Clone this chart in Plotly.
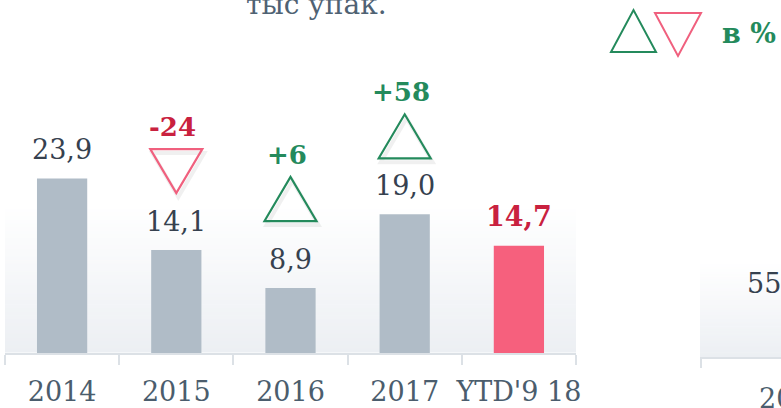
import plotly.graph_objects as go

# main chart data
categories = ['2014', '2015', '2016', '2017', "YTD'9 18"]
volumes = [23.9, 14.1, 8.9, 19.0, 14.7]
changes_pct = [None, -24, 6, 58, None]
unit_title = 'тыс упак.'
legend_text = 'в %'

# pieces of the next chart that are cut off at the right edge
next_value_text = '55'
next_category_text = '20'

W, H = 781, 408
FONT = 'DejaVu Serif'
GRAY = '#b0bcc7'
PINK = '#f6607d'
DARK = '#36414f'
SLATE = '#4b5d6d'
RED_TXT = '#c9213f'
GREEN = '#248a5c'
RED_TRI = '#f0607e'
AXIS = '#dce1e6'

PX_PER_UNIT = 7.3
PLOT_BOTTOM = 353


def fx(p):
    return p / W


def fy(p):
    return 1 - p / H


def fade(p_top, p_bottom, x0, x1, steps=40):
    # light vertical gradient behind the bars, drawn as thin strips
    shapes = []
    top, bot = (255, 255, 255), (236, 239, 243)
    h = (p_bottom - p_top) / steps
    for k in range(steps):
        t = (k + 0.5) / steps
        c = tuple(round(top[j] + (bot[j] - top[j]) * t) for j in range(3))
        shapes.append(dict(type='rect', xref='paper', yref='paper', layer='below',
                           x0=fx(x0), x1=fx(x1),
                           y0=fy(p_top + k * h), y1=fy(p_top + (k + 1) * h + 0.6),
                           line_width=0, fillcolor='rgb(%d,%d,%d)' % c))
    return shapes


def tri_path(cx, base, tip):
    # pixel coordinates -> paper path
    return 'M %f,%f L %f,%f L %f,%f Z' % (fx(cx - 26), fy(base), fx(cx + 26), fy(base), fx(cx), fy(tip))


fig = go.Figure()
fig.add_trace(go.Bar(
    x=categories, y=volumes, width=0.44,
    marker=dict(color=[GRAY] * 4 + [PINK], line_width=0),
    hoverinfo='x+y'))

shapes = fade(205, PLOT_BOTTOM - 1, 5, 576) + fade(262, 357, 700, W)

# axis of the cut-off chart on the right
shapes.append(dict(type='line', xref='paper', yref='paper', x0=fx(700), x1=1,
                   y0=fy(358), y1=fy(358), line=dict(color=AXIS, width=2)))
shapes.append(dict(type='line', xref='paper', yref='paper', x0=fx(701), x1=fx(701),
                   y0=fy(358), y1=fy(368), line=dict(color=AXIS, width=2)))

annotations = []
y_max = PLOT_BOTTOM / PX_PER_UNIT

# value labels
for i, v in enumerate(volumes):
    last = i == len(categories) - 1
    annotations.append(dict(
        x=i, y=v, xref='x', yref='y', yanchor='middle', yshift=29,
        text=('<b>%s</b>' if last else '%s') % ('%.1f' % v).replace('.', ','),
        showarrow=False,
        font=dict(family=FONT, size=27, color=RED_TXT if last else DARK)))

# change triangles with percentage above them
tri_gap = [None, 57, 67, 56, None]
tri_h = 44
for i, (v, ch) in enumerate(zip(volumes, changes_pct)):
    if ch is None:
        continue
    top_px = PLOT_BOTTOM - v * PX_PER_UNIT
    cx = 5 + (i + 0.5) * (571 / 5)
    low = top_px - tri_gap[i]
    high = low - tri_h
    if ch < 0:
        path = tri_path(cx, high, low)
        col = RED_TRI
    else:
        path = tri_path(cx, low, high)
        col = GREEN
    shapes.append(dict(type='path', xref='paper', yref='paper',
                       path=tri_path(cx + 2, (high if ch < 0 else low) + 4, (low if ch < 0 else high) + 4),
                       line=dict(color='rgba(0,0,0,0.06)', width=4)))
    shapes.append(dict(type='path', xref='paper', yref='paper', path=path,
                       line=dict(color=col, width=2.2)))
    annotations.append(dict(
        x=fx(cx - 4), y=fy(high - 22), xref='paper', yref='paper',
        xanchor='center', yanchor='middle',
        text='<b>%+d</b>' % ch, showarrow=False,
        font=dict(family=FONT, size=26, color=RED_TXT if ch < 0 else GREEN)))

# legend triangles
shapes.append(dict(type='path', xref='paper', yref='paper',
                   path='M %f,%f L %f,%f L %f,%f Z' % (fx(611), fy(52), fx(656), fy(52), fx(633.5), fy(10)),
                   line=dict(color=GREEN, width=2)))
shapes.append(dict(type='path', xref='paper', yref='paper',
                   path='M %f,%f L %f,%f L %f,%f Z' % (fx(655), fy(13), fx(701), fy(13), fx(678), fy(56)),
                   line=dict(color=RED_TRI, width=2)))
annotations.append(dict(x=fx(749), y=fy(33), xref='paper', yref='paper',
                        xanchor='center', yanchor='middle',
                        text='<b>%s</b>' % legend_text, showarrow=False,
                        font=dict(family=FONT, size=27, color=GREEN)))

# unit title, cut by the top edge
annotations.append(dict(x=fx(316), y=1, xref='paper', yref='paper',
                        xanchor='center', yanchor='bottom', yshift=-23,
                        text=unit_title, showarrow=False,
                        font=dict(family=FONT, size=28, color='#4f6273')))

# remains of the right-hand chart
annotations.append(dict(x=fx(745), y=fy(283), xref='paper', yref='paper', xanchor='left',
                        yanchor='middle', text=next_value_text, showarrow=False,
                        font=dict(family=FONT, size=27, color=DARK)))
annotations.append(dict(x=fx(757), y=fy(398), xref='paper', yref='paper', xanchor='left',
                        yanchor='middle', text=next_category_text, showarrow=False,
                        font=dict(family=FONT, size=27, color=SLATE)))

fig.update_layout(
    width=W, height=H,
    margin=dict(l=0, r=0, t=0, b=0),
    paper_bgcolor='white', plot_bgcolor='rgba(0,0,0,0)',
    showlegend=False,
    shapes=shapes, annotations=annotations,
    xaxis=dict(domain=[fx(5), fx(576)], type='category', range=[-0.5, 4.5],
               showline=True, linecolor=AXIS, linewidth=2,
               ticks='outside', tickson='boundaries', ticklen=10, tickwidth=2, tickcolor=AXIS,
               tickangle=0, automargin=False, ticklabelstandoff=14,
               tickfont=dict(family=FONT, size=27, color=SLATE), showgrid=False, fixedrange=True),
    yaxis=dict(domain=[fy(PLOT_BOTTOM), 1], range=[0, y_max], visible=False,
               automargin=False, fixedrange=True),
)

fig.write_html("out.html", config={'displayModeBar': False},
               post_script="document.body.style.margin='0';")
